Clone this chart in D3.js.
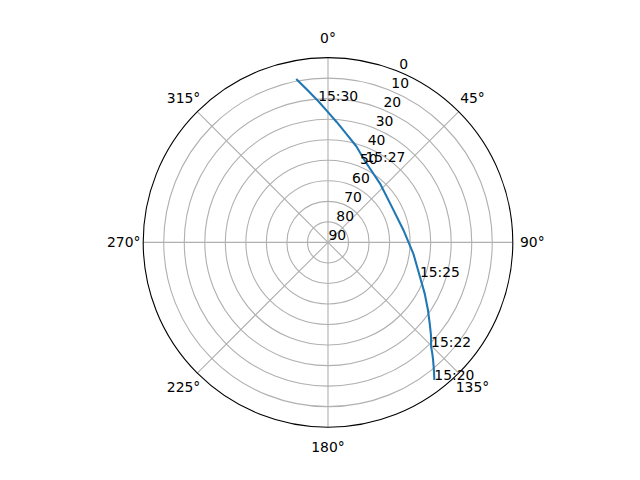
<!DOCTYPE html>
<html><head><meta charset="utf-8">
<script src="https://cdn.jsdelivr.net/npm/d3@7"></script>
<style>body{margin:0;background:#fff}</style>
</head><body><svg id="c" width="640" height="480"></svg>
<script>
// Pass data: time, azimuth (deg, clockwise from N), elevation (deg)
const times = ["15:20:00","15:20:30","15:21:00","15:21:30","15:22:00","15:22:30",
  "15:23:00","15:23:30","15:24:00","15:24:30","15:25:00","15:25:30","15:26:00",
  "15:26:30","15:27:00","15:27:30","15:28:00","15:28:30","15:29:00","15:29:30",
  "15:30:00","15:30:30","15:31:00"];
const azimuth = [142.3,140.9,139.5,138.1,136.7,135.3,132.1,128.6,123.9,117.9,110.5,
  98.0,80.6,60.7,42.2,24.9,16.4,9.6,4.2,359.8,356.0,352.3,349.0];
const elevation = [5.3,8.1,10.8,13.4,16.0,18.6,22.4,26.6,31.4,36.7,42.2,47.9,52.8,
  54.4,51.9,46.7,41.2,36.4,31.3,26.3,21.0,15.1,8.9];
const labelTimes = ["15:20:00","15:22:30","15:25:00","15:27:30","15:30:00"];
const radialTicks = [0,10,20,30,40,50,60,70,80,90];
const angleTicks = [0,45,90,135,180,225,270,315];

const W = 640, H = 480;
const cx = 328, cy = 242.4, R = 184.8;
const FONT = "DejaVu Sans, sans-serif", FS = 13.9;

const svg = d3.select("#c");
const g = svg.append("g").attr("transform", `translate(${cx},${cy})`);

const r = d3.scaleLinear().domain([90, 0]).range([0, R]);
const ang = d3.scaleLinear().domain([0, 360]).range([0, 2 * Math.PI]);
const px = (a, rad) => rad * Math.sin(ang(a));
const py = (a, rad) => -rad * Math.cos(ang(a));

// grid circles
g.selectAll("circle.grid").data(radialTicks.filter(t => t > 0 && t < 90))
  .join("circle").attr("r", d => r(d))
  .attr("fill", "none").attr("stroke", "#b0b0b0").attr("stroke-width", 1.1);
// angular grid lines
g.selectAll("line.grid").data(angleTicks).join("line")
  .attr("x1", 0).attr("y1", 0)
  .attr("x2", d => px(d, R)).attr("y2", d => py(d, R))
  .attr("stroke", "#b0b0b0").attr("stroke-width", 1.1);

// data line
const data = times.map((t, i) => ({t, az: azimuth[i], el: elevation[i]}));
const line = d3.lineRadial().angle(d => ang(d.az)).radius(d => r(d.el));
g.append("path").datum(data).attr("d", line)
  .attr("fill", "none").attr("stroke", "#1f77b4").attr("stroke-width", 2.08)
  .attr("stroke-linejoin", "round").attr("stroke-linecap", "butt");

// outer spine
g.append("circle").attr("r", R).attr("fill", "none")
  .attr("stroke", "#000").attr("stroke-width", 1.1);

// radial tick labels at 22.5 deg
const rlab = 22.5;
g.selectAll("text.rt").data(radialTicks).join("text")
  .attr("x", d => px(rlab, r(d)) + 0.5)
  .attr("y", d => py(rlab, r(d)) - 2.8)
  .attr("font-family", FONT).attr("font-size", FS)
  .attr("text-anchor", "start").attr("fill", "#000")
  .text(d => d);

// angle tick labels
g.selectAll("text.at").data(angleTicks).join("text")
  .attr("x", d => px(d, R + 19.5))
  .attr("y", d => py(d, R + 19.5) + 5)
  .attr("font-family", FONT).attr("font-size", FS)
  .attr("text-anchor", "middle").attr("fill", "#000")
  .text(d => d + "°");

// time annotations
g.selectAll("text.ann").data(data.filter(d => labelTimes.includes(d.t))).join("text")
  .attr("x", d => px(d.az, r(d.el)))
  .attr("y", d => py(d.az, r(d.el)))
  .attr("font-family", FONT).attr("font-size", FS)
  .attr("text-anchor", "start").attr("fill", "#000")
  .text(d => d.t.slice(0, 5));
</script>
</body></html>
